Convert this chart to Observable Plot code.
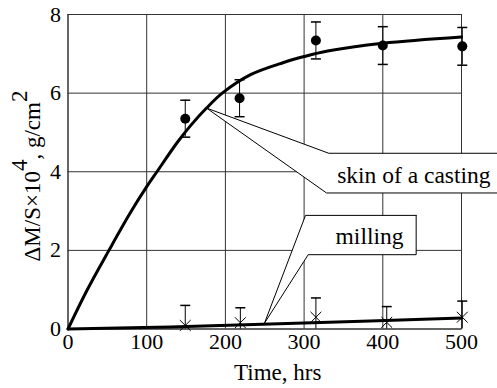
<!DOCTYPE html>
<html><head><meta charset="utf-8">
<script src="https://cdn.jsdelivr.net/npm/d3@7"></script>
<script src="https://cdn.jsdelivr.net/npm/@observablehq/plot@0.6"></script>
<style>body{margin:0;background:#fff} svg{display:block} svg text{font-family:"Liberation Serif","Times New Roman",serif !important}</style>
</head><body><div id="chart"></div>
<script>
// measured points (mean and error-bar half width)
const skinTime = [149, 218, 315, 400, 501];
const skinMean = [5.35, 5.87, 7.34, 7.21, 7.19];
const skinErr  = [0.47, 0.47, 0.47, 0.48, 0.48];
const millTime = [149, 219, 315, 405, 501];
const millMean = [0.09, 0.16, 0.30, 0.17, 0.30];
const millErr  = [0.51, 0.38, 0.49, 0.40, 0.41];
// fitted curves
const skinCurveT = [0, 24, 52, 79, 100, 113, 139, 156, 176, 196, 232, 274, 300, 330, 400, 500];
const skinCurveV = [0, 0.98, 2, 2.95, 3.62, 4, 4.75, 5.18, 5.62, 6.0, 6.47, 6.78, 6.93, 7.07, 7.27, 7.43];
const millCurveT = [0, 130, 300, 500];
const millCurveV = [0, 0.05, 0.15, 0.28];
// ticks
const xTicks = [0, 100, 200, 300, 400, 500];
const yTicks = [0, 2, 4, 6, 8];
// callouts (data units)
const skinCallT = [546, 331.4, 176, 328.5, 546];
const skinCallV = [4.47, 4.47, 5.62, 3.46, 3.46];
const skinLabel = ["skin of a casting"], skinLabelT = [342], skinLabelV = [3.71];
const millCallT = [442.4, 301.8, 249.7, 305.2, 442.4, 442.4];
const millCallV = [2.89, 2.89, 0.15, 1.89, 1.89, 2.89];
const millLabel = ["milling"], millLabelT = [340], millLabelV = [2.17];

const skin = skinTime.map((t, i) => ({t, v: skinMean[i], e: skinErr[i]}));
const mill = millTime.map((t, i) => ({t, v: millMean[i], e: millErr[i]}));
const skinCurve = skinCurveT.map((t, i) => ({t, v: skinCurveV[i]}));
const millCurve = millCurveT.map((t, i) => ({t, v: millCurveV[i]}));
const skinCall = skinCallT.map((t, i) => ({t, v: skinCallV[i]}));
const millCall = millCallT.map((t, i) => ({t, v: millCallV[i]}));

const cap = {draw(ctx) { ctx.moveTo(-5, 0); ctx.lineTo(5, 0); }};
const font = "Liberation Serif";

const plot = Plot.plot({
  width: 497, height: 388,
  marginLeft: 67.5, marginRight: 36, marginTop: 14, marginBottom: 59.5,
  style: {fontFamily: font, fontSize: "22px", color: "black", background: "white"},
  x: {domain: [0, 500]},
  y: {domain: [0, 8]},
  marks: [
    Plot.gridX(xTicks, {stroke: "#333", strokeOpacity: 1}),
    Plot.gridY(yTicks, {stroke: "#333", strokeOpacity: 1}),
    Plot.frame({stroke: "#333"}),
    Plot.axisX(xTicks, {tickSize: 0, tickPadding: 4, label: null, fontFamily: font, fontSize: 22}),
    Plot.axisY(yTicks, {tickSize: 0, tickPadding: 7, label: null, fontFamily: font, fontSize: 22}),
    // callouts
    Plot.line(skinCall, {x: "t", y: "v", fill: "white", stroke: "black", strokeWidth: 1}),
    Plot.text(skinLabel, {x: skinLabelT, y: skinLabelV, text: d => d, textAnchor: "start", lineAnchor: "bottom", fontSize: 23.5, fontFamily: font}),
    Plot.line(millCall, {x: "t", y: "v", fill: "white", stroke: "black", strokeWidth: 1}),
    Plot.text(millLabel, {x: millLabelT, y: millLabelV, text: d => d, textAnchor: "start", lineAnchor: "bottom", fontSize: 23.5, fontFamily: font}),
    // curves
    Plot.line(skinCurve, {x: "t", y: "v", curve: "catmull-rom", stroke: "black", strokeWidth: 3}),
    Plot.line(millCurve, {x: "t", y: "v", curve: "catmull-rom", stroke: "black", strokeWidth: 3}),
    // error bars
    Plot.ruleX(skin, {x: "t", y1: d => d.v - d.e, y2: d => d.v + d.e, stroke: "black", strokeWidth: 1}),
    Plot.dot(skin, {x: "t", y: d => d.v + d.e, symbol: cap, stroke: "black", fill: "none"}),
    Plot.dot(skin, {x: "t", y: d => d.v - d.e, symbol: cap, stroke: "black", fill: "none"}),
    Plot.dot(skin, {x: "t", y: "v", r: 5, fill: "black", stroke: "none"}),
    Plot.ruleX(mill, {x: "t", y1: d => Math.max(0, d.v - d.e), y2: d => d.v + d.e, stroke: "black", strokeWidth: 1}),
    Plot.dot(mill, {x: "t", y: d => d.v + d.e, symbol: cap, stroke: "black", fill: "none"}),
    Plot.dot(mill, {x: "t", y: "v", r: 5, symbol: "times", stroke: "black", strokeWidth: 1}),
    // x axis label
    Plot.text(["Time, hrs"], {frameAnchor: "bottom", text: d => d, dx: 13, dy: 51, lineAnchor: "bottom", fontSize: 23, fontFamily: font})
  ]
});

const svg = d3.select(plot);
const yl = svg.append("text")
  .attr("transform", "translate(40,176) rotate(-90)")
  .attr("text-anchor", "middle")
  .attr("font-family", font)
  .attr("font-size", 23)
  .attr("fill", "black");
yl.append("tspan").text("ΔM/S×10");
yl.append("tspan").attr("dy", "-0.55em").text("4");
yl.append("tspan").attr("dy", "0.55em").text(", g/cm");
yl.append("tspan").attr("dy", "-0.55em").text("2");

document.getElementById("chart").appendChild(plot);
</script>
</body></html>
